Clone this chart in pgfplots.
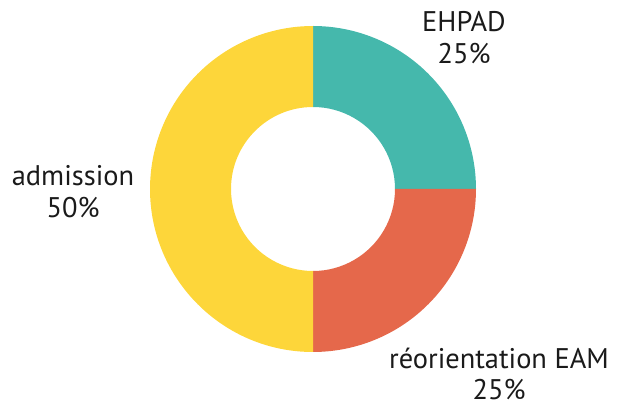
\documentclass[border=0pt]{standalone}
\usepackage{fontspec}
\setmainfont{PT Sans}
\usepackage{pgfplots}
\usepackage{pgfplotstable}
\pgfplotsset{compat=1.18}

\definecolor{cTeal}{HTML}{45B8AC}
\definecolor{cRed}{HTML}{E5684B}
\definecolor{cYellow}{HTML}{FDD63A}
\definecolor{cText}{HTML}{1A1A1A}

% slices, clockwise from 12 o'clock
\pgfplotstableread[col sep=comma]{
label,value,color
EHPAD,25,cTeal
réorientation EAM,25,cRed
admission,50,cYellow
}\donutdata

\begin{document}
\begin{tikzpicture}
\begin{axis}[
    hide axis,
    scale only axis,
    width=627bp, height=407bp,
    xmin=0, xmax=627, ymin=0, ymax=407,
    clip=false,
]
\pgfplotstablegetrowsof{\donutdata}
\pgfmathtruncatemacro\nrows{\pgfplotsretval-1}
\def\cum{0}
\pgfplotsforeachungrouped \i in {0,...,\nrows}{
    \pgfplotstablegetelem{\i}{value}\of\donutdata \let\val\pgfplotsretval
    \pgfplotstablegetelem{\i}{color}\of\donutdata \let\col\pgfplotsretval
    \pgfmathsetmacro\a{90-3.6*\cum}
    \pgfmathsetmacro\b{90-3.6*(\cum+\val)}
    \edef\temp{\noexpand\fill[\col] ([shift={(\a:163bp)}]axis cs:313,218)
        arc[start angle=\a, end angle=\b, radius=163bp]
        -- ([shift={(\b:82bp)}]axis cs:313,218)
        arc[start angle=\b, end angle=\a, radius=82bp] -- cycle;}
    \temp
    \pgfmathsetmacro\cum{\cum+\val}
}
\tikzset{lbl/.style={align=center, text=cText, font=\fontsize{28.5}{32}\selectfont}}
\node[lbl] at (axis cs:464,369) {EHPAD\\25\%};
\node[lbl] at (axis cs:73,215) {admission\\50\%};
\node[lbl] at (axis cs:499,33) {réorientation EAM\\25\%};
\end{axis}
\pgfresetboundingbox
\useasboundingbox (0,0) rectangle (627bp,407bp);
\end{tikzpicture}
\end{document}
